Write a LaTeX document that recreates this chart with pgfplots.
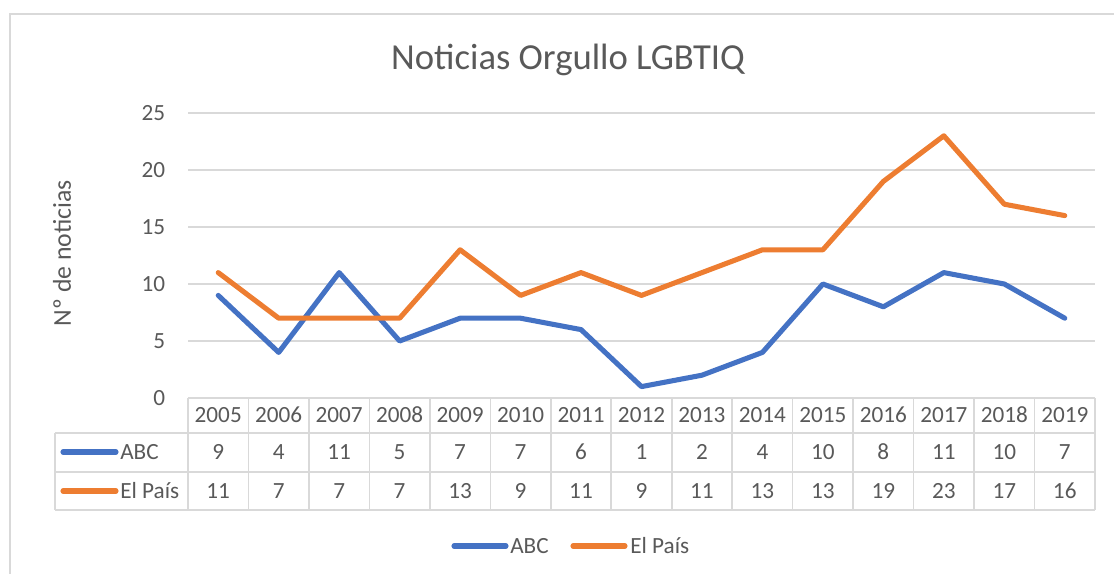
\documentclass[border=0pt]{standalone}
\usepackage{fontspec}
\setmainfont{Carlito}
\usepackage{pgfplots}
\pgfplotsset{compat=1.18}
\definecolor{abc}{HTML}{4472C4}
\definecolor{pais}{HTML}{ED7D31}
\definecolor{txt}{HTML}{595959}
\definecolor{grd}{HTML}{D9D9D9}
\begin{document}
\begin{tikzpicture}
% everything outside the axis is placed in image pixels (1px = 0.75pt, y down)
\begin{scope}[x=0.75pt, y=-0.75pt]
\useasboundingbox (0,0) rectangle (1114,574);
\draw[grd, line width=1.2pt] (10,574) -- (10,14) -- (1114,14);
\node[txt, font=\fontsize{27.5}{32}\selectfont] at (568,60) {Noticias Orgullo LGBTIQ};
\node[txt, rotate=90, font=\fontsize{19.3}{23}\selectfont] at (62,253) {Nº de noticias};
\end{scope}

\begin{axis}[
    at={(141pt,-298.5pt)}, anchor=south west,
    scale only axis,
    width=680.25pt, height=213.75pt,
    xmin=-0.5, xmax=14.5,
    ymin=0, ymax=25,
    xtick={0,...,14},
    xticklabels={2005,2006,2007,2008,2009,2010,2011,2012,2013,2014,2015,2016,2017,2018,2019},
    ytick={0,5,10,15,20,25},
    ymajorgrids=true,
    grid style={grd, line width=1.2pt},
    axis line style={draw=none},
    major tick length=0pt,
    tick label style={txt, font=\fontsize{17.4}{21}\selectfont},
    /pgf/number format/assume math mode=true,
    xticklabel style={anchor=center, yshift=-12.75pt},
    yticklabel style={anchor=east, inner sep=0pt, xshift=-17pt},
    clip=false,
]
\addplot[abc, line width=3.8pt, line cap=round, line join=round] coordinates {
(0,9)(1,4)(2,11)(3,5)(4,7)(5,7)(6,6)(7,1)(8,2)(9,4)(10,10)(11,8)(12,11)(13,10)(14,7)
};
\addplot[pais, line width=3.8pt, line cap=round, line join=round] coordinates {
(0,11)(1,7)(2,7)(3,7)(4,13)(5,9)(6,11)(7,9)(8,11)(9,13)(10,13)(11,19)(12,23)(13,17)(14,16)
};
\end{axis}

\begin{scope}[x=0.75pt, y=-0.75pt, font=\fontsize{17.4}{21}\selectfont, text=txt]
% data table
\draw[grd, line width=1.2pt] (188,398) -- (1095,398);
\draw[grd, line width=1.2pt] (55,433) -- (1095,433);
\draw[grd, line width=1.2pt] (55,472) -- (1095,472);
\draw[grd, line width=1.2pt] (55,510) -- (1095,510);
\draw[grd, line width=1.2pt] (55,433) -- (55,510);
\foreach \k in {0,...,15} {
  \draw[grd, line width=1.2pt] ({188+60.467*\k},398) -- ({188+60.467*\k},510);
}
\draw[abc, line width=3.8pt, line cap=round] (63,452) -- (116,452);
\draw[pais, line width=3.8pt, line cap=round] (63,491) -- (116,491);
\node[anchor=west, inner sep=0pt] at (120,452) {ABC};
\node[anchor=west, inner sep=0pt] at (120,491) {El País};
\foreach \v [count=\i from 0] in {9,4,11,5,7,7,6,1,2,4,10,8,11,10,7} {
  \node at ({218.2+60.467*\i},452) {\v};
}
\foreach \v [count=\i from 0] in {11,7,7,7,13,9,11,9,11,13,13,19,23,17,16} {
  \node at ({218.2+60.467*\i},491) {\v};
}
% legend
\draw[abc, line width=3.8pt, line cap=round] (454,546) -- (506,546);
\node[anchor=west, inner sep=0pt] at (510,546) {ABC};
\draw[pais, line width=3.8pt, line cap=round] (573,546) -- (625,546);
\node[anchor=west, inner sep=0pt] at (630,546) {El País};
\end{scope}
\end{tikzpicture}
\end{document}
